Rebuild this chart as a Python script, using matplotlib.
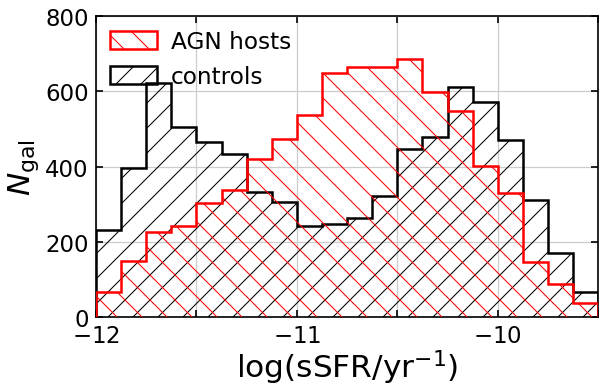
import numpy as np
import matplotlib
matplotlib.use('Agg')
import matplotlib.pyplot as plt

# bin edges of the sSFR histogram
bin_edges = np.linspace(-12, -9.5, 21)

# counts per bin
agn_hosts = [66, 149, 226, 242, 303, 338, 420, 473, 537, 649,
             665, 665, 686, 598, 548, 402, 330, 146, 88, 37]
controls = [231, 396, 622, 505, 465, 434, 332, 306, 242, 247,
            263, 322, 447, 479, 612, 572, 471, 311, 170, 67]

plt.rcParams['hatch.linewidth'] = 0.5

fig = plt.figure(figsize=(4, 2.573), dpi=150)
ax = fig.add_axes([0.16, 0.176, 0.837, 0.78])

centers = 0.5 * (bin_edges[:-1] + bin_edges[1:])
ax.hist(centers, bins=bin_edges, weights=agn_hosts, histtype='step', fill=False,
        hatch='\\\\', edgecolor='red', linewidth=1.2, label='AGN hosts', zorder=3)
ax.hist(centers, bins=bin_edges, weights=controls, histtype='step', fill=False,
        hatch='//', edgecolor='black', linewidth=1.2, label='controls', zorder=2)

ax.set_xlim(-12, -9.5)
ax.set_ylim(0, 800)
xt = np.arange(-12, -9.4, 0.5)
ax.set_xticks(xt)
ax.set_xticklabels(['$-12$', '', '$-11$', '', '$-10$', ''])
ax.set_yticks([0, 200, 400, 600, 800])
ax.tick_params(direction='in', top=True, right=True, labelsize=11)
ax.grid(True, color='#cccccc', linewidth=0.6)
ax.set_axisbelow(True)

ax.set_xlabel(r'log(sSFR/yr$^{-1}$)', fontsize=15, labelpad=0)
ax.set_ylabel(r'$N_{\rm gal}$', fontsize=15, labelpad=2)

ax.legend(loc='upper left', frameon=False, fontsize=11.2, borderaxespad=0.2,
          handletextpad=0.6, handleheight=0.8)

fig.savefig('out.png', dpi=150)
